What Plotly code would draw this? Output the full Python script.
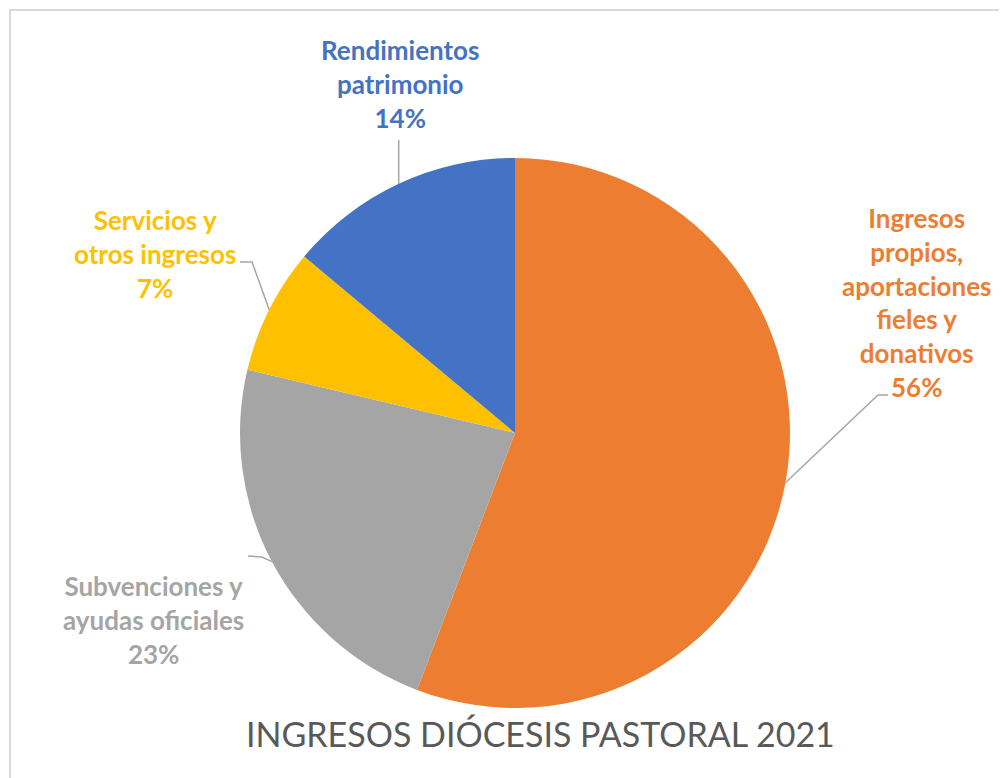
import math
import plotly.graph_objects as go

# ---- data ----
labels = ["Ingresos propios, aportaciones fieles y donativos",
          "Subvenciones y ayudas oficiales",
          "Servicios y otros ingresos",
          "Rendimientos patrimonio"]
label_lines = [["Ingresos", "propios,", "aportaciones", "fieles y", "donativos"],
               ["Subvenciones y", "ayudas oficiales"],
               ["Servicios y", "otros ingresos"],
               ["Rendimientos", "patrimonio"]]
values = [55.8, 22.9, 7.4, 13.9]
colors = ["#ED7D31", "#A5A5A5", "#FFC000", "#4472C4"]
title_text = "INGRESOS DIÓCESIS PASTORAL 2021"

W, H = 1007, 778
OFF = 8  # page offset of the plot in the browser
CX, CY, R = 515, 433, 275  # pie centre / radius in px (screen)


def px(x):
    return (x - OFF) / W


def py(y):
    return 1 - (y - OFF) / H


fig = go.Figure(go.Pie(
    labels=labels, values=values, sort=False, direction="clockwise", rotation=0,
    marker=dict(colors=colors, line=dict(width=0)),
    textinfo="none", hoverinfo="label+percent", showlegend=False,
    domain=dict(x=[px(CX - R), px(CX + R)], y=[py(CY + R), py(CY - R)]),
))

# label text positions (px) and leader-line elbows
label_pos = [(917, 302), (153, 620), (155, 254), (400, 84)]
elbows = [[(878, 395), (888, 395)],
          [(262, 557), (248, 556)],
          [(252, 262), (240, 262)],
          [None, None]]

total = sum(values)
cum = 0
annotations = []
shapes = []
for i, v in enumerate(values):
    mid = (cum + v / 2) / total * 2 * math.pi
    cum += v
    ex, ey = CX + R * math.sin(mid), CY - R * math.cos(mid)
    pct = round(v / total * 100)
    txt = "<br>".join(label_lines[i] + [f"{pct}%"])
    lx, ly = label_pos[i]
    annotations.append(dict(
        x=px(lx), y=py(ly), xref="paper", yref="paper", text=txt, showarrow=False,
        xanchor="center", yanchor="middle", align="center",
        font=dict(family="Lato", size=26, color=colors[i], weight="bold"),
    ))
    pts = [(ex, ey)]
    if elbows[i][0] is None:
        pts.append((ex, 140))
    else:
        pts += elbows[i]
    path = "M " + " L ".join(f"{px(a):.5f},{py(b):.5f}" for a, b in pts)
    shapes.append(dict(type="path", path=path, xref="paper", yref="paper",
                       line=dict(color="#A6A6A6", width=1.5)))

annotations.append(dict(
    x=px(540), y=py(733), xref="paper", yref="paper", text=title_text, showarrow=False,
    xanchor="center", yanchor="middle",
    font=dict(family="Lato", size=34, color="#595959"),
))

shapes.append(dict(type="rect", xref="paper", yref="paper",
                   x0=px(10), x1=1.2, y0=py(10), y1=-0.2,
                   line=dict(color="#D9D9D9", width=2), layer="below"))

fig.update_layout(width=W, height=H, margin=dict(l=0, r=0, t=0, b=0),
                  paper_bgcolor="white", plot_bgcolor="white",
                  annotations=annotations, shapes=shapes)
fig.write_html("out.html")
